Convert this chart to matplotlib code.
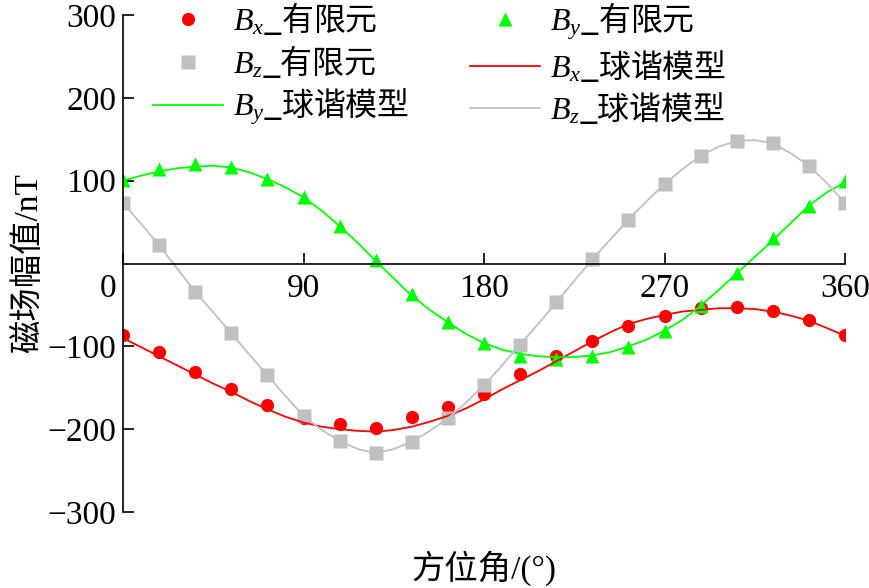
import matplotlib
matplotlib.use('Agg')
import matplotlib.pyplot as plt
import matplotlib.transforms as mtransforms

plt.rcParams['font.family'] = ['Liberation Serif', 'Noto Sans CJK SC']
plt.rcParams['mathtext.fontset'] = 'custom'
plt.rcParams['mathtext.rm'] = 'Liberation Serif'
plt.rcParams['mathtext.it'] = 'Liberation Serif:italic'
plt.rcParams['axes.unicode_minus'] = True

# finite element results, every 18 degrees
angles = [0, 18, 36, 54, 72, 90, 108, 126, 144, 162, 180,
          198, 216, 234, 252, 270, 288, 306, 324, 342, 360]
bx_fem = [-86, -107, -131, -152, -171, -187, -194, -198, -185, -173, -157,
          -134, -112, -93, -76, -63, -54, -52, -57, -68, -86]
by_fem = [101, 114, 120, 116, 102, 80, 45, 4, -37, -71, -96,
          -112, -115, -112, -101, -81, -51, -11, 31, 70, 100]
bz_fem = [73, 22, -34, -84, -135, -184, -214, -229, -215, -187, -147,
          -98, -47, 5, 53, 96, 130, 148, 145, 118, 73]

# spherical harmonic model curves, every 9 degrees
angles_fine = [0, 9, 18, 27, 36, 45, 54, 63, 72, 81, 90, 99, 108, 117, 126,
               135, 144, 153, 162, 171, 180, 189, 198, 207, 216, 225, 234,
               243, 252, 261, 270, 279, 288, 297, 306, 315, 324, 333, 342,
               351, 360]
bx_model = [-90, -101, -112, -123, -134, -145, -155, -166, -176, -185, -192,
            -197, -200, -202, -203, -201, -197, -191, -184, -175, -164,
            -152, -141, -130, -118, -106, -94, -83, -73, -67, -62, -58,
            -56, -54, -54, -55, -58, -63, -69, -78, -87]
by_model = [100, 106, 111, 115, 117, 118, 116, 110, 102, 92, 80, 64, 45, 25,
            3, -18, -39, -56, -71, -85, -96, -104, -109, -112, -113, -113,
            -111, -107, -100, -92, -81, -68, -51, -32, -12, 8, 28, 49, 70,
            86, 98]
bz_model = [73, 48, 22, -6, -34, -59, -84, -110, -135, -160, -184, -201,
            -214, -224, -229, -224, -215, -202, -187, -168, -147, -123, -98,
            -73, -47, -21, 5, 29, 53, 75, 96, 114, 130, 141, 148, 149, 145,
            133, 118, 97, 73]

xticks = [0, 90, 180, 270, 360]
yticks = [-300, -200, -100, 100, 200, 300]

red = '#ff0000'
green = '#00ff00'
grey = '#c0c0c0'

fig = plt.figure(figsize=(8.7, 5.88), dpi=100)
ax = fig.add_axes([123 / 870, 1 - 512 / 588, 722 / 870, 497 / 588])

h_bx, = ax.plot(angles, bx_fem, 'o', color=red, ms=9.5, mec='none', label=r'$B_x$_有限元')
h_by, = ax.plot(angles, by_fem, '^', color=green, ms=9.5, mec='none', label=r'$B_y$_有限元')
h_bz, = ax.plot(angles, bz_fem, 's', color=grey, ms=9.5, mec='none', label=r'$B_z$_有限元')
l_bx, = ax.plot(angles_fine, bx_model, '-', color=red, lw=1.3, label=r'$B_x$_球谐模型')
l_by, = ax.plot(angles_fine, by_model, '-', color=green, lw=1.3, label=r'$B_y$_球谐模型')
l_bz, = ax.plot(angles_fine, bz_model, '-', color=grey, lw=1.3, label=r'$B_z$_球谐模型')

ax.set_xlim(0, 360)
ax.set_ylim(-300, 300)
ax.spines['top'].set_visible(False)
ax.spines['right'].set_visible(False)
ax.spines['bottom'].set_position(('data', 0))
for sp in ('left', 'bottom'):
    ax.spines[sp].set_linewidth(1.2)

ax.set_xticks(xticks)
ax.set_yticks(yticks)
ax.tick_params(direction='in', length=8, width=1.2, labelsize=24)
ax.tick_params(axis='x', pad=7)
ax.tick_params(axis='y', pad=5)

# the "0" label sits left of the origin
lab0 = ax.get_xticklabels()[0]
lab0.set_transform(lab0.get_transform() +
                   mtransforms.ScaledTranslation(-15 / 100, 0, fig.dpi_scale_trans))

ax.set_ylabel('磁场幅值/nT', fontsize=24, labelpad=2)
ax.set_xlabel('方位角/(°)', fontsize=24)
ax.xaxis.set_label_coords(0.5, -0.078)

handles = [h_bx, h_bz, l_by, h_by, l_bx, l_bz]
ax.legend(handles=handles, ncol=2, frameon=False,
          prop={'family': ['Noto Sans CJK SC'], 'size': 23},
          loc='upper left', bbox_to_anchor=(153 / 870, 1.0),
          bbox_transform=fig.transFigure, borderpad=0, borderaxespad=0,
          handlelength=2.2, handletextpad=0.3, columnspacing=1.9,
          labelspacing=0.2)

fig.savefig('out.png', dpi=100)
